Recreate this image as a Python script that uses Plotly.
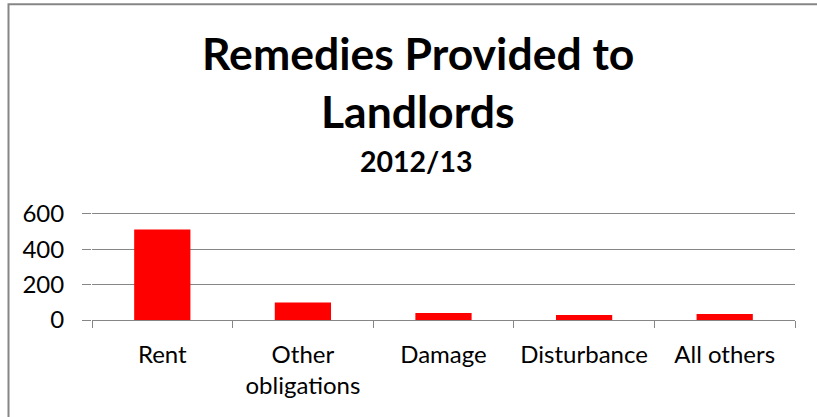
import plotly.graph_objects as go

categories = ["Rent", "Other<br>obligations", "Damage", "Disturbance", "All others"]
values = [511, 99, 40, 28, 34]
y_ticks = [0, 200, 400, 600]
title_lines = ["Remedies Provided to", "Landlords"]
subtitle = "2012/13"

GRAY = "#868686"
FONT = "Lato"

fig = go.Figure(
    go.Bar(x=categories, y=values, marker=dict(color="#FF0000", line=dict(width=0)), width=0.4)
)

YMAX = 610
L, R, B = 92, 22, 97
W, H = 817, 417
scale = 106.3 / 600  # px per unit
ph = YMAX * scale
T = H - B - ph
pw = W - L - R


def py(p):
    """pixel from top -> paper y"""
    return (H - B - p) / ph


def px(p):
    return (p - L) / pw


TX = px(418)

annotations = [
    dict(
        text=f"<b>{title_lines[0]}</b>", showarrow=False,
        xref="paper", yref="paper", x=TX, y=py(52),
        xanchor="center", yanchor="middle",
        font=dict(family=FONT, size=44.5, color="black"),
    ),
    dict(
        text=f"<b>{title_lines[1]}</b>", showarrow=False,
        xref="paper", yref="paper", x=TX, y=py(110),
        xanchor="center", yanchor="middle",
        font=dict(family=FONT, size=44.5, color="black"),
    ),
    dict(
        text=f"<b>{subtitle}</b>", showarrow=False,
        xref="paper", yref="paper", x=px(416), y=py(161),
        xanchor="center", yanchor="middle",
        font=dict(family=FONT, size=28.5, color="black"),
    ),
]

fig.update_layout(
    width=W, height=H,
    margin=dict(l=L, r=R, t=T, b=B, pad=0),
    paper_bgcolor="white", plot_bgcolor="white",
    font=dict(family=FONT, color="black", size=24),
    showlegend=False,
    annotations=annotations,
    shapes=[dict(
        type="rect", xref="paper", yref="paper",
        x0=px(8.5), x1=px(W + 20),
        y0=py(H + 20), y1=py(4),
        line=dict(color=GRAY, width=2), fillcolor="rgba(0,0,0,0)", layer="below",
    )],
)

fig.update_xaxes(
    type="category", showline=True, linecolor=GRAY, linewidth=1.3,
    ticks="outside", tickson="boundaries", ticklen=7, tickcolor=GRAY, tickwidth=1.3,
    showgrid=False, ticklabelstandoff=13, tickfont=dict(size=24),
)
fig.update_yaxes(
    range=[0, YMAX], tickvals=y_ticks, showline=False,
    showgrid=True, gridcolor=GRAY, gridwidth=1.3, zeroline=False,
    ticks="outside", ticklen=9, tickcolor=GRAY, tickwidth=1.3,
    ticklabelstandoff=13, tickfont=dict(size=24),
)

fig.write_html(
    "out.html",
    config={"displayModeBar": False},
    post_script="document.body.style.margin='0';window.dispatchEvent(new Event('resize'));",
)
